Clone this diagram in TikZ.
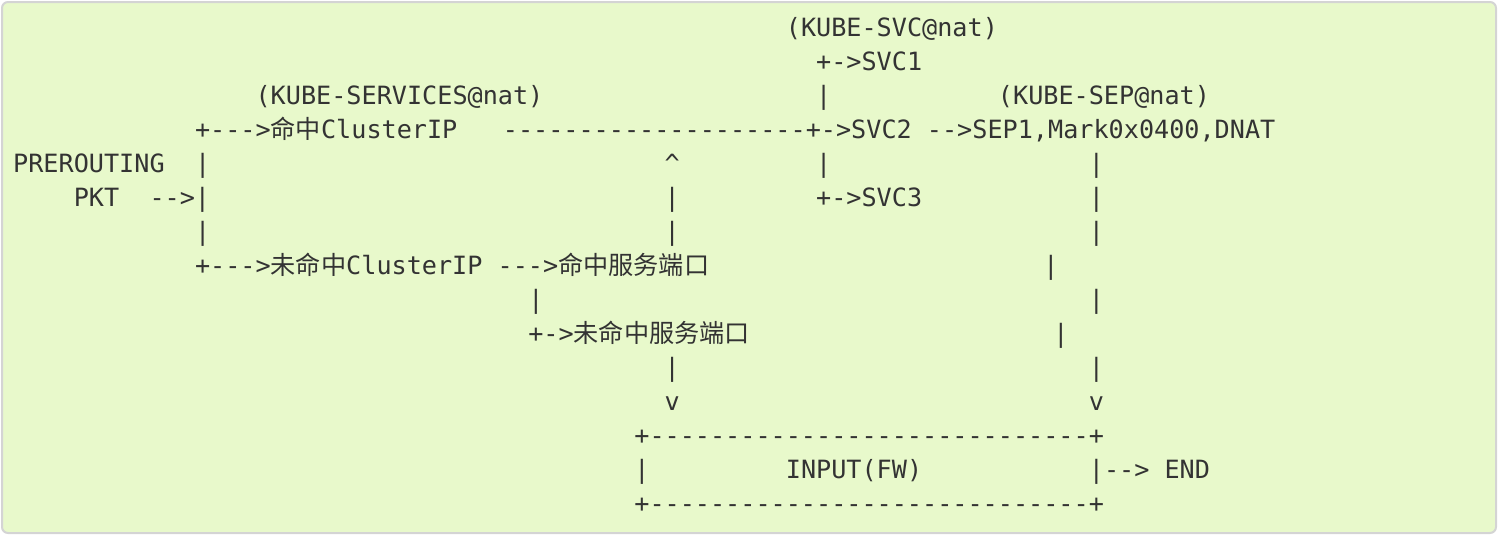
\documentclass[tikz,border=0pt]{standalone}
\usepackage{fontspec}
\setmonofont{DejaVu Sans Mono}
\newfontfamily\cjk{Noto Sans CJK SC}
\usepackage{xcolor}
\definecolor{panelgreen}{RGB}{232,249,203}
\definecolor{panelrule}{RGB}{212,212,212}
\definecolor{ink}{RGB}{51,51,51}

\tikzset{
  txt/.style={anchor=base west, inner sep=0pt, outer sep=0pt, text=ink,
    font=\ttfamily\fontsize{25.16pt}{34pt}\selectfont}
}

\begin{document}
\begin{tikzpicture}[x=15.15pt, y=-34pt]
        % panel, in pixels
        \begin{scope}[x=1pt, y=-1pt, shift={(-13.2pt,36.7pt)}]
            \path[use as bounding box] (0, 0) rectangle (1498, 536);
            \draw[panelrule, fill=panelgreen, line width=2pt, rounded corners=6pt]
                (2, 2) rectangle (1496, 533);
        \end{scope}

        % chains
        \node[txt] (svcchain) at (51, 0) {(KUBE-SVC@nat)};
        \node[txt] (svcone) at (53, 1) {+->SVC1};
        \node[txt] (servchain) at (16, 2) {(KUBE-SERVICES@nat)};
        \node[txt] (svcbara) at (53, 2) {|};
        \node[txt] (sepchain) at (65, 2) {(KUBE-SEP@nat)};

        \node[txt] (hitip) at (12, 3) {+--->{\cjk 命中}ClusterIP};
        \node[txt] (svctwo) at (32.32, 3) {--------------------+->SVC2 -->SEP1,Mark0x0400,DNAT};

        \node[txt] (prerouting) at (0, 4) {PREROUTING};
        \node[txt] (inbara) at (12, 4) {|};
        \node[txt] (uphead) at (43, 4) {\textasciicircum};
        \node[txt] (svcbarb) at (53, 4) {|};
        \node[txt] (sepbara) at (71, 4) {|};

        \node[txt] (pkt) at (4, 5) {PKT};
        \node[txt] (pktin) at (9, 5) {-->|};
        \node[txt] (upbara) at (43, 5) {|};
        \node[txt] (svcthree) at (53, 5) {+->SVC3};
        \node[txt] (sepbarb) at (71, 5) {|};

        \node[txt] (inbarb) at (12, 6) {|};
        \node[txt] (upbarb) at (43, 6) {|};
        \node[txt] (sepbarc) at (71, 6) {|};

        \node[txt] (missip) at (12, 7) {+--->{\cjk 未命中}ClusterIP --->{\cjk 命中服务端口}};
        \node[txt] (sepbard) at (68, 7) {|};

        \node[txt] (portbar) at (34, 8) {|};
        \node[txt] (sepbare) at (71, 8) {|};

        \node[txt] (missport) at (34, 9) {+->{\cjk 未命中服务端口}};
        \node[txt] (sepbarf) at (68.65, 9) {|};

        \node[txt] (downbar) at (43, 10) {|};
        \node[txt] (sepbarg) at (71, 10) {|};

        \node[txt] (downhead) at (43, 11) {v};
        \node[txt] (sephead) at (71, 11) {v};

        % input box
        \node[txt] (boxtop) at (41, 12) {+-----------------------------+};
        \node[txt] (boxleft) at (41, 13) {|};
        \node[txt] (input) at (51, 13) {INPUT(FW)};
        \node[txt] (boxright) at (71, 13) {|--> END};
        \node[txt] (boxbottom) at (41, 14) {+-----------------------------+};
\end{tikzpicture}
\end{document}
